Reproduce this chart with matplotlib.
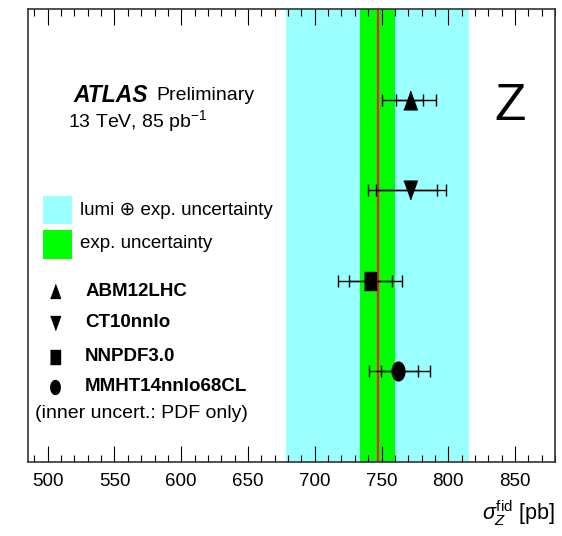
import matplotlib
matplotlib.use('Agg')
import matplotlib.pyplot as plt
from matplotlib.patches import Rectangle
from matplotlib.ticker import MultipleLocator
import numpy as np

plt.rcParams['font.family'] = ['Liberation Sans', 'DejaVu Sans']
plt.rcParams['mathtext.fontset'] = 'custom'
plt.rcParams['mathtext.rm'] = 'Liberation Sans'
plt.rcParams['mathtext.it'] = 'Liberation Sans:italic'

# measured cross section and its bands
sigma_meas = 747.0
err_exp = 13.0
err_tot = 68.5

# theory predictions (value, inner = PDF only, outer = total)
pdf_names = ['ABM12LHC', 'CT10nnlo', 'NNPDF3.0', 'MMHT14nnlo68CL']
pred = np.array([771.0, 771.0, 741.3, 762.5])
inner_lo = np.array([10.5, 25.5, 15.8, 13.2])
inner_hi = np.array([9.8, 20.3, 16.2, 15.1])
outer_lo = np.array([21.0, 31.3, 23.8, 22.0])
outer_hi = np.array([20.0, 27.0, 23.7, 23.5])
ypos = [4, 3, 2, 1]

# slightly stretched shapes, ROOT style
tri_up = [(-0.72, -1), (0.72, -1), (0, 1)]
tri_dn = [(-0.72, 1), (0.72, 1), (0, -1)]
square = [(-0.68, -1), (0.68, -1), (0.68, 1), (-0.68, 1)]
t = np.linspace(0, 2*np.pi, 40)
ellipse = list(zip(0.68*np.cos(t), np.sin(t)))
markers = [tri_up, tri_dn, square, ellipse]

fig = plt.figure(figsize=(5.62, 5.36), dpi=100)
ax = fig.add_axes([0.0493, 0.138, 0.9384, 0.845])

ax.axvspan(sigma_meas - err_tot, sigma_meas + err_tot, color='#99ffff', lw=0)
ax.axvspan(sigma_meas - err_exp, sigma_meas + err_exp, color='#00ff00', lw=0)
ax.axvline(sigma_meas, color='#e8261a', lw=1.6)

for i in range(4):
    ax.errorbar(pred[i], ypos[i], xerr=[[outer_lo[i]], [outer_hi[i]]], fmt='none',
                ecolor='black', elinewidth=1.0, capsize=4.3, capthick=1.0)
    ax.errorbar(pred[i], ypos[i], xerr=[[inner_lo[i]], [inner_hi[i]]], fmt='none',
                ecolor='black', elinewidth=1.0, capsize=4.3, capthick=1.0)
    ax.plot(pred[i], ypos[i], marker=markers[i], color='black', ms=13.5, ls='none')

ax.set_xlim(485, 880)
ax.set_ylim(0, 5)
ax.set_yticks([])
ax.xaxis.set_major_locator(MultipleLocator(50))
ax.xaxis.set_minor_locator(MultipleLocator(10))
ax.tick_params(axis='x', which='both', direction='in', top=True, bottom=True, labelsize=13.5, pad=8)
ax.tick_params(axis='x', which='major', length=11.5, width=0.8)
ax.tick_params(axis='x', which='minor', length=5, width=0.8)
for s in ax.spines.values():
    s.set_color('#333333')
    s.set_linewidth(1.2)

ax.set_xlabel(r'$\sigma_{Z}^{\mathrm{fid}}$ [pb]', fontsize=15.5, loc='right', labelpad=6)

# labels
ax.text(0.0865, 0.809, 'ATLAS', transform=ax.transAxes, fontsize=16.5,
        fontweight='bold', fontstyle='italic', va='center')
ax.text(0.244, 0.809, 'Preliminary', transform=ax.transAxes, fontsize=14, va='center')
ax.text(0.077, 0.752, '13 TeV, 85 pb$^{-1}$', transform=ax.transAxes, fontsize=14, va='center')
ax.text(0.915, 0.785, 'Z', transform=ax.transAxes, fontsize=37, fontstyle='normal',
        ha='center', va='center')

# legend
ax.add_patch(Rectangle((0.0284, 0.525), 0.055, 0.062, transform=ax.transAxes,
                       color='#99ffff', lw=0))
ax.add_patch(Rectangle((0.0284, 0.448), 0.055, 0.064, transform=ax.transAxes,
                       color='#00ff00', lw=0))
ax.text(0.0992, 0.556, 'lumi \u2295 exp. uncertainty', transform=ax.transAxes,
        fontsize=13.5, va='center')
ax.text(0.0992, 0.483, 'exp. uncertainty', transform=ax.transAxes, fontsize=13.5, va='center')

leg_y = [0.377, 0.307, 0.232, 0.166]
for i in range(4):
    ax.plot(0.0518, leg_y[i], marker=markers[i], color='black', ms=10,
            transform=ax.transAxes, ls='none')
    ax.text(0.1087, leg_y[i], pdf_names[i], transform=ax.transAxes, fontsize=13.5,
            fontweight='bold', va='center')
ax.text(0.0139, 0.108, '(inner uncert.: PDF only)', transform=ax.transAxes,
        fontsize=14, va='center')

fig.savefig('out.png', dpi=100)
